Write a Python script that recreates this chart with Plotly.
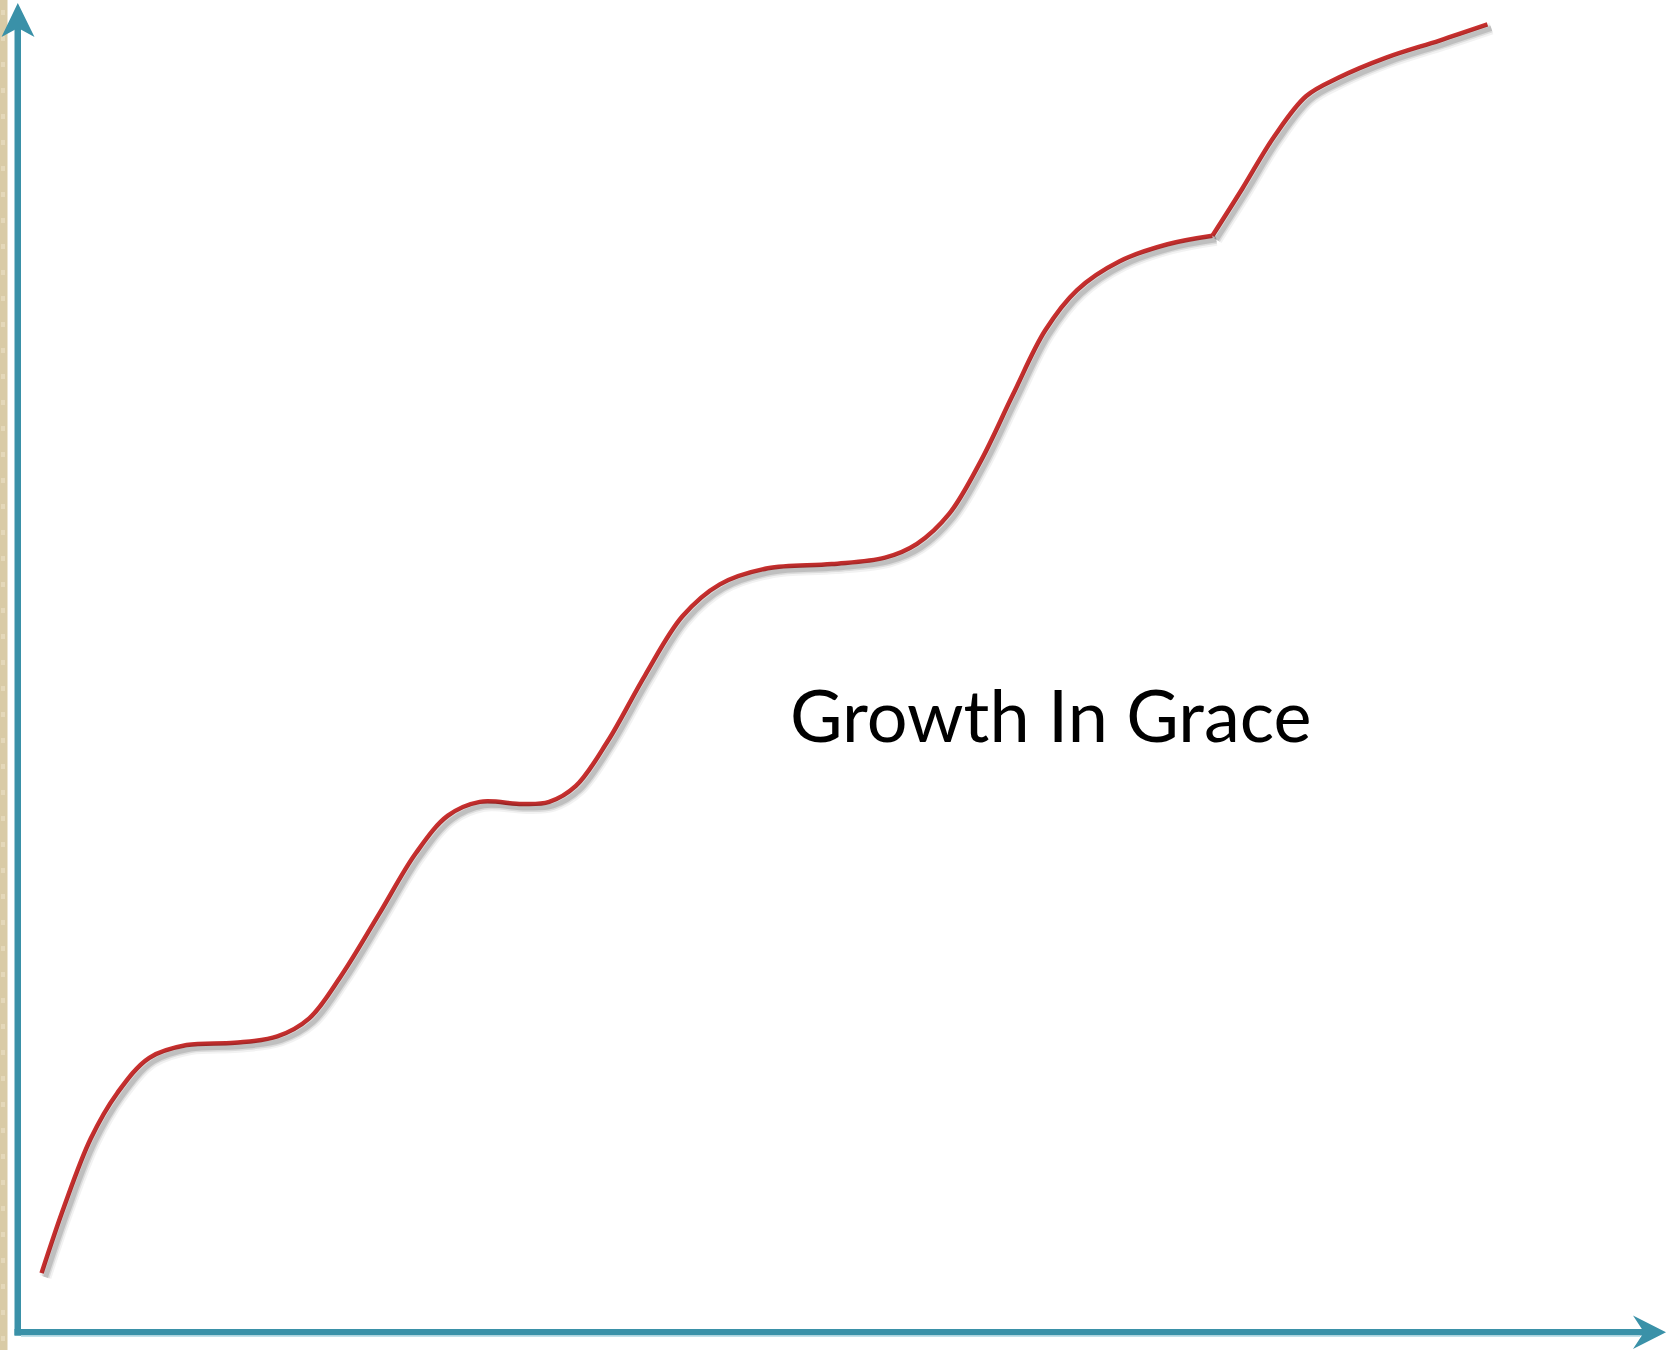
import plotly.graph_objects as go

# Growth curve (time on x, growth on y), data units 0-100
x_rise = [1.43, 2.79, 4.41, 6.03, 7.97, 10.24, 13.15, 15.74, 17.68, 19.62, 21.89, 24.16, 26.10,
          28.04, 30.63, 32.25, 33.87, 35.81, 38.08, 40.34, 42.61, 45.52, 49.41, 52.64, 54.58,
          56.53, 58.47, 60.41, 62.36, 64.30, 66.89, 69.80, 72.52]
y_rise = [4.43, 9.41, 14.55, 18.00, 20.65, 21.61, 21.78, 22.26, 23.62, 26.83, 31.41, 36.07, 38.88,
          39.92, 39.76, 39.92, 41.12, 44.50, 49.47, 53.89, 56.30, 57.51, 57.83, 58.31, 59.35,
          61.60, 65.62, 70.59, 75.41, 78.46, 80.63, 81.91, 82.55]
x_top = [72.52, 74.33, 76.27, 78.22, 80.16, 83.07, 86.31, 89.22]
y_top = [82.55, 86.09, 90.02, 93.07, 94.44, 95.96, 97.25, 98.46]

label_text = "Growth In Grace"

W, H = 1672, 1350
ML, MR, MT, MB = 18, 7, 4, 18
PW, PH = W - ML - MR, H - MT - MB
XR, YR = [0, 100], [0, 100]
sdx = 4 * (XR[1] - XR[0]) / PW   # shadow offset in data units
sdy = 4 * (YR[1] - YR[0]) / PH

AX = "#3A91A8"
RED = "#C9302F"
SMOOTH = 1.0

fig = go.Figure()

# drop shadow layers (on shifted overlay axes)
for wdt, op in [(12, 0.05), (8, 0.09), (5, 0.13)]:
    for xs, ys in [(x_rise, y_rise), (x_top, y_top)]:
        fig.add_trace(go.Scatter(x=xs, y=ys, mode="lines", xaxis="x2", yaxis="y2",
                                 line=dict(color=f"rgba(0,0,0,{op})", width=wdt,
                                           shape="spline", smoothing=SMOOTH),
                                 hoverinfo="skip", showlegend=False))

for xs, ys in [(x_rise, y_rise), (x_top, y_top)]:
    fig.add_trace(go.Scatter(x=xs, y=ys, mode="lines",
                             line=dict(color=RED, width=4.5, shape="spline", smoothing=SMOOTH),
                             showlegend=False))

ax_common = dict(showgrid=False, zeroline=False, showticklabels=False, ticks="",
                 showline=False, fixedrange=True)
fig.update_layout(
    width=W, height=H,
    margin=dict(l=ML, r=MR, t=MT, b=MB),
    paper_bgcolor="white", plot_bgcolor="rgba(0,0,0,0)",
    xaxis=dict(range=XR, **ax_common),
    yaxis=dict(range=YR, **ax_common),
    xaxis2=dict(range=[XR[0] - sdx, XR[1] - sdx], overlaying="x", **ax_common),
    yaxis2=dict(range=[YR[0] + sdy, YR[1] + sdy], overlaying="y", **ax_common),
)

# convert pixel positions to paper fractions for decorations
def px(v):
    return (v - ML) / PW

def py(v):
    return (H - MB - v) / PH

shapes = []
# beige strip at left edge
shapes.append(dict(type="rect", xref="paper", yref="paper", x0=px(0), x1=px(7.5), y0=py(H), y1=py(0),
                   fillcolor="#D9CBA6", line=dict(width=0), layer="below"))
for yy in range(10, H, 26):
    shapes.append(dict(type="rect", xref="paper", yref="paper", x0=px(1), x1=px(5),
                       y0=py(yy + 5), y1=py(yy), fillcolor="#E4D8B9", line=dict(width=0), layer="below"))
# vertical axis shaft
shapes.append(dict(type="rect", xref="paper", yref="paper", x0=px(14.5), x1=px(21), y0=py(1335.5), y1=py(26),
                   fillcolor=AX, line=dict(width=0)))
# horizontal axis shaft
shapes.append(dict(type="rect", xref="paper", yref="paper", x0=px(14.5), x1=px(1646), y0=py(1335.5), y1=py(1329),
                   fillcolor=AX, line=dict(width=0)))
shapes.append(dict(type="rect", xref="paper", yref="paper", x0=px(21), x1=px(1640), y0=py(1337), y1=py(1335.5),
                   fillcolor="#BFE0EA", line=dict(width=0)))
fig.update_layout(shapes=shapes)

# arrowheads as filled paths (paper coords)
def path(pts):
    return "M " + " L ".join(f"{px(a):.5f},{py(b):.5f}" for a, b in pts) + " Z"

fig.add_shape(type="path", xref="paper", yref="paper", path=path([(17.8, 3), (34.5, 37), (18, 28), (1.5, 37)]),
              fillcolor=AX, line=dict(width=0))
fig.add_shape(type="path", xref="paper", yref="paper", path=path([(1666, 1332.3), (1633, 1349), (1644, 1332.3), (1633, 1315.5)]),
              fillcolor=AX, line=dict(width=0))

fig.add_annotation(text=label_text, xref="paper", yref="paper", x=px(1050), y=py(714),
                   xanchor="center", yanchor="middle", showarrow=False,
                   font=dict(family="Lato", size=72, color="black"))

fig.write_html("out.html", config={"displayModeBar": False},
               post_script="document.body.style.margin='0';document.body.style.overflow='hidden';")
